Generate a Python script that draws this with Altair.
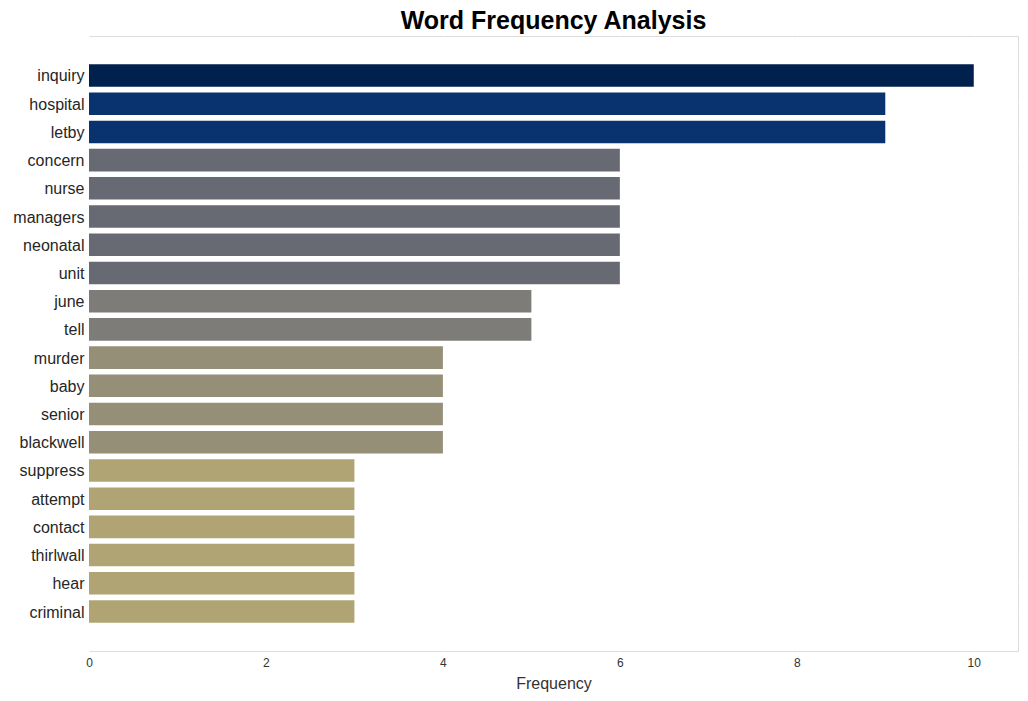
import altair as alt
import pandas as pd

words = ["inquiry", "hospital", "letby", "concern", "nurse", "managers", "neonatal",
         "unit", "june", "tell", "murder", "baby", "senior", "blackwell", "suppress",
         "attempt", "contact", "thirlwall", "hear", "criminal"]
counts = [10, 9, 9, 6, 6, 6, 6, 6, 5, 5, 4, 4, 4, 4, 3, 3, 3, 3, 3, 3]
color_levels = [10, 9, 6, 5, 4, 3]
color_values = ["#00204d", "#08336e", "#686a73", "#7d7c78", "#958f78", "#b0a474"]

df = pd.DataFrame({"word": words, "count": counts})

chart = alt.Chart(df).mark_bar().encode(
    x=alt.X("count:Q", title="Frequency",
            scale=alt.Scale(domain=[0, 10.5], nice=False),
            axis=alt.Axis(values=[0, 2, 4, 6, 8, 10], grid=True, gridColor="white",
                          gridWidth=1, domain=False, ticks=False, labelFontSize=12,
                          labelColor="#333333", titleFontSize=16, titleColor="#333333",
                          titleFontWeight="normal", labelPadding=6, titlePadding=7,
                          labelFlush=False,
                          labelFont="Liberation Sans", titleFont="Liberation Sans")),
    y=alt.Y("word:N", sort=words, title=None,
            scale=alt.Scale(paddingInner=0.2, paddingOuter=1.0),
            axis=alt.Axis(grid=True, gridColor="white", gridWidth=1, bandPosition=0.5,
                          domain=False, ticks=False, labelFontSize=16,
                          labelColor="#262626", labelPadding=5, labelOffset=1,
                          labelFont="Liberation Sans")),
    color=alt.Color("count:O", scale=alt.Scale(domain=color_levels, range=color_values),
                    legend=None),
).properties(
    width=929,
    height=615,
    title=alt.TitleParams("Word Frequency Analysis", fontSize=25, fontWeight="bold",
                          font="Liberation Sans", color="black", anchor="middle", offset=2),
    padding={"left": 89, "top": 36, "right": 10, "bottom": 50},
    autosize=alt.AutoSizeParams(type="none"),
).configure_view(
    fill="#f7f7f7", stroke="transparent", strokeWidth=0, strokeOpacity=0
).configure(background="white")

chart.save("out.html", embed_options={"renderer": "svg", "actions": False})
